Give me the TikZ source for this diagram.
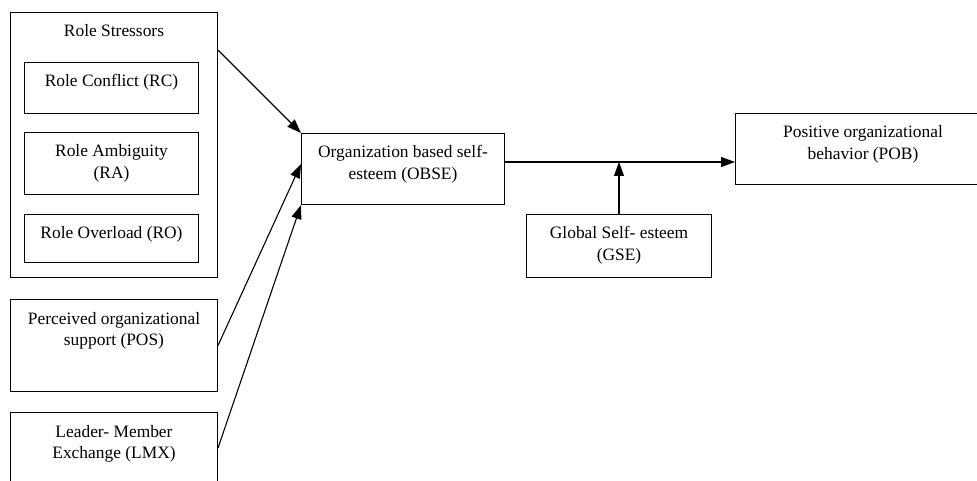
\documentclass[tikz,border=0pt]{standalone}
\usepackage{fontspec}
\setmainfont{Liberation Serif}
\usetikzlibrary{arrows.meta,positioning}

\tikzset{
    box/.style={draw,line width=1pt,anchor=north west,inner sep=0pt},
    txt/.style={anchor=base,align=center,inner sep=0pt,font=\fontsize{17.4}{21.5}\selectfont},
    arr/.style={-{Triangle[length=14pt,width=10pt]},line width=1.1pt}
}

\begin{document}
\begin{tikzpicture}[x=1pt,y=-1pt]
    \useasboundingbox (0,0) rectangle (977,481);
    \clip (0,0) rectangle (977,481);
    \node[box,minimum width=207pt,minimum height=265pt] (rs) at (10,12) {};
    \node[box,minimum width=174pt,minimum height=51pt] (rc) at (24,62) {};
    \node[box,minimum width=174pt,minimum height=62pt] (ra) at (24,132) {};
    \node[box,minimum width=174pt,minimum height=48pt] (ro) at (24,214) {};
    \node[box,minimum width=207pt,minimum height=92pt] (pos) at (10,299) {};
    \node[box,minimum width=207pt,minimum height=92pt] (lmx) at (10,412) {};
    \node[box,minimum width=203pt,minimum height=71pt] (obse) at (301,133) {};
    \node[box,minimum width=185pt,minimum height=63pt] (gse) at (526,214) {};
    \node[box,minimum width=255pt,minimum height=71pt] (pob) at (735,113) {};
    \node[txt] (rstxt) at ([yshift=-25pt]rs.north) {Role Stressors};
    \node[txt] (rctxt) at ([yshift=-25pt]rc.north) {Role Conflict (RC)};
    \node[txt] (ratxt) at ([yshift=-46.5pt]ra.north) {Role Ambiguity\\(RA)};
    \node[txt] (rotxt) at ([yshift=-25pt]ro.north) {Role Overload (RO)};
    \node[txt] (postxt) at ([yshift=-46.5pt]pos.north) {Perceived organizational\\support (POS)};
    \node[txt] (lmxtxt) at ([yshift=-46.5pt]lmx.north) {Leader- Member\\Exchange (LMX)};
    \node[txt] (obsetxt) at ([yshift=-46.5pt]obse.north) {Organization based self-\\esteem (OBSE)};
    \node[txt] (gsetxt) at ([yshift=-46.5pt]gse.north) {Global Self- esteem\\(GSE)};
    \node[txt] (pobtxt) at ([yshift=-46.5pt]pob.north) {Positive organizational\\behavior (POB)};
    \coordinate (mid) at ([yshift=7pt]obse.east);
    \draw[arr] ([yshift=-38pt]rs.north east) -- (obse.north west);
    \draw[arr] (pos.east) -- ([yshift=5pt]obse.west);
    \draw[arr] ([yshift=-36pt]lmx.north east) -- (obse.south west);
    \draw[arr] (mid) -- (mid -| pob.west);
    \draw[arr] (gse.north) -- (gse.north |- mid);
\end{tikzpicture}
\end{document}
